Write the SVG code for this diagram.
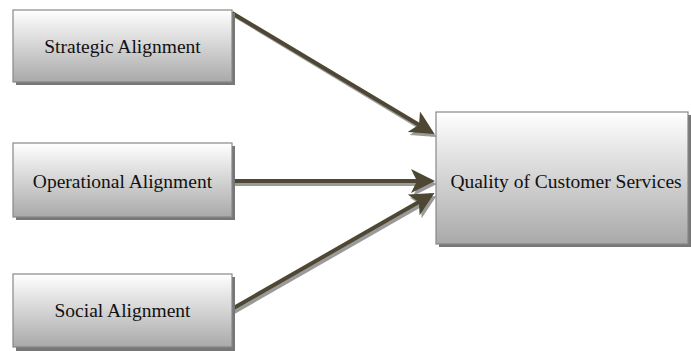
<svg xmlns="http://www.w3.org/2000/svg" width="691" height="351" viewBox="0 0 691 351">
<defs>
<linearGradient id="g" x1="0" y1="0" x2="0" y2="1">
<stop offset="0" stop-color="#ffffff"/>
<stop offset="1" stop-color="#a9a9a9"/>
</linearGradient>
<marker id="ah" markerWidth="6" markerHeight="6" refX="5" refY="3" orient="auto" markerUnits="strokeWidth">
<path d="M0,0 L6,3 L0,6 L1.5,3 Z" fill="#4d4733"/>
</marker>
<marker id="ahs" markerWidth="6" markerHeight="6" refX="5" refY="3" orient="auto" markerUnits="strokeWidth">
<path d="M0,0 L6,3 L0,6 L1.5,3 Z" fill="#9a9a9a"/>
</marker>
</defs>
<style>
.sh{fill:#777777;}
.bx{fill:url(#g);stroke:#888888;stroke-width:1.2;}
.t{font-family:"Liberation Serif",serif;font-size:19.5px;fill:#111;text-anchor:middle;}
.ln{stroke:#4d4733;stroke-width:4;fill:none;marker-end:url(#ah);}
.lns{stroke:#9a9a9a;stroke-width:4;fill:none;marker-end:url(#ahs);}
</style>
<g id="connectors">
<line class="lns" x1="234" y1="15" x2="433" y2="135"/>
<line class="lns" x1="234" y1="184" x2="433" y2="184"/>
<line class="lns" x1="234" y1="312" x2="433" y2="198"/>
<line class="ln" x1="232" y1="13" x2="431" y2="132"/>
<line class="ln" x1="232" y1="181" x2="431" y2="181"/>
<line class="ln" x1="232" y1="309" x2="431" y2="195"/>
</g>
<g id="strategic">
<rect class="sh" x="16" y="13" width="219" height="72"/>
<rect class="bx" x="13" y="10" width="219" height="72"/>
<text class="t" x="122.5" y="53">Strategic Alignment</text>
</g>
<g id="operational">
<rect class="sh" x="16" y="146" width="219" height="74"/>
<rect class="bx" x="13" y="143" width="219" height="74"/>
<text class="t" x="122.5" y="188">Operational Alignment</text>
</g>
<g id="social">
<rect class="sh" x="16" y="277" width="219" height="74"/>
<rect class="bx" x="13" y="274" width="219" height="73"/>
<text class="t" x="122.5" y="317">Social Alignment</text>
</g>
<g id="quality">
<rect class="sh" x="439" y="115" width="252" height="132"/>
<rect class="bx" x="436" y="112" width="252" height="132"/>
<text class="t" x="566" y="188">Quality of Customer Services</text>
</g>
</svg>
